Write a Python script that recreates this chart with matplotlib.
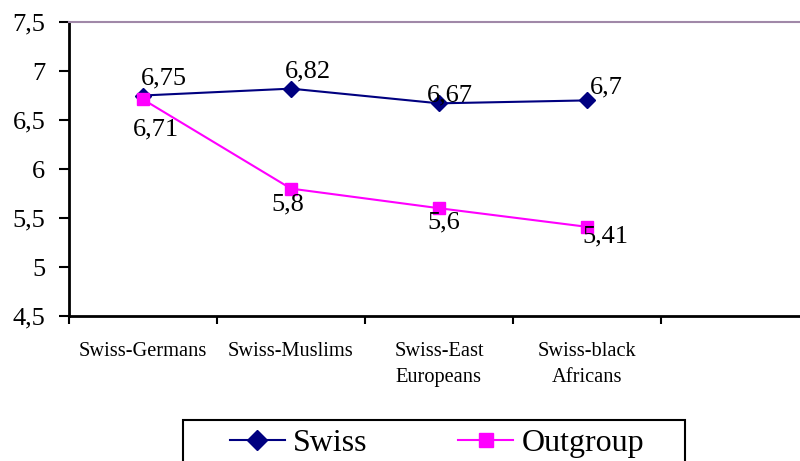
import numpy as np
import matplotlib.pyplot as plt
from matplotlib.patches import Rectangle

plt.rcParams['font.family'] = ['Liberation Serif', 'DejaVu Serif']

groups = ['Swiss-Germans', 'Swiss-Muslims', 'Swiss-East\nEuropeans', 'Swiss-black\nAfricans']
swiss = [6.75, 6.82, 6.67, 6.7]
outgroup = [6.71, 5.8, 5.6, 5.41]
yticks = [4.5, 5, 5.5, 6, 6.5, 7, 7.5]

# label offsets in pixels (dx, dy) for the data labels
swiss_off = [(21, 17), (17, 17), (11, 8), (19, 13)]
out_off = [(13, -30), (-3, -16), (5, -14), (18, -10)]

fig = plt.figure(figsize=(8, 4.61), dpi=100)
ax = fig.add_axes([69/800, 1 - 316/461, 1 - 69/800, (316 - 22)/461])

x = np.arange(len(groups))
ax.plot(x, swiss, color='#000080', lw=1.5, marker='D', ms=8, label='Swiss', clip_on=False)
ax.plot(x, outgroup, color='#ff00ff', lw=1.5, marker='s', ms=8.5, label='Outgroup', clip_on=False)

for xi, v, (dx, dy) in zip(x, swiss, swiss_off):
    ax.annotate(('%g' % v).replace('.', ','), (xi, v), xytext=(dx, dy), textcoords='offset pixels',
                ha='center', va='center', fontsize=19)
for xi, v, (dx, dy) in zip(x, outgroup, out_off):
    ax.annotate(('%g' % v).replace('.', ','), (xi, v), xytext=(dx, dy), textcoords='offset pixels',
                ha='center', va='center', fontsize=19)

ax.set_ylim(4.5, 7.5)
ax.set_xlim(-0.5, 4.44)
ax.set_yticks(yticks)
ax.set_yticklabels([('%g' % t).replace('.', ',') for t in yticks], fontsize=19)
ax.tick_params(axis='y', length=7, width=1.5, pad=10)

ax.set_xticks(np.arange(-0.5, 4.5, 1))
ax.set_xticklabels([])
ax.set_xticks(x, minor=True)
ax.set_xticklabels(groups, minor=True, fontsize=14.7, linespacing=1.45)
ax.tick_params(axis='x', which='major', length=6, width=1.5)
ax.tick_params(axis='x', which='minor', length=0, pad=19)

ax.spines['left'].set_linewidth(2)
ax.spines['bottom'].set_linewidth(2)
ax.spines['right'].set_visible(False)
ax.spines['top'].set_color('#a088a8')
ax.spines['top'].set_linewidth(1.5)

leg = fig.legend(loc='center left', bbox_to_anchor=(230/800, 1 - 443/461), ncol=2,
                 frameon=False, fontsize=23, handlelength=1.72, handletextpad=0.25,
                 columnspacing=2.85, borderpad=0, borderaxespad=0)
for h in leg.legend_handles:
    h.set_markersize(10)
fig.patches.append(Rectangle((183/800, -0.05), (685 - 183)/800, 0.05 + (461 - 420)/461,
                             transform=fig.transFigure, fill=False, edgecolor='black', lw=1.5))

fig.savefig('out.png', dpi=100)
